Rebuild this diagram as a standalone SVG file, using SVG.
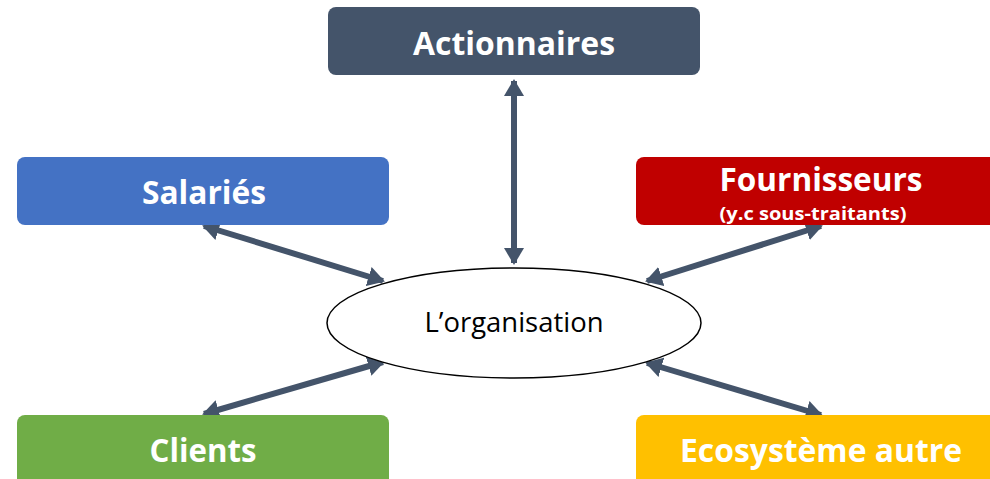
<svg xmlns="http://www.w3.org/2000/svg" width="990" height="479" viewBox="0 0 990 479">
<style>
.box{stroke:none}
.t{font-family:"Open Sans","Liberation Sans",sans-serif;font-weight:bold;fill:#fff;text-anchor:middle}
.c{stroke:#44546A;stroke-width:6;fill:none;marker-start:url(#ah);marker-end:url(#ah)}
</style>
<defs>
<marker id="ah" viewBox="0 0 17 20" refX="15" refY="10" markerWidth="17" markerHeight="20" markerUnits="userSpaceOnUse" orient="auto-start-reverse">
<path d="M0,0 L17,10 L0,20 Z" fill="#44546A"/>
</marker>
</defs>
<rect width="990" height="479" fill="#fff"/>
<g id="connectors">
<line class="c" x1="514" y1="81" x2="514" y2="263"/>
<line class="c" x1="204" y1="226" x2="383" y2="281"/>
<line class="c" x1="821" y1="226" x2="647" y2="281"/>
<line class="c" x1="204" y1="414" x2="383" y2="362"/>
<line class="c" x1="821" y1="415" x2="647" y2="363"/>
</g>
<g id="actionnaires">
<rect class="box" x="328" y="7" width="372" height="68" rx="8" fill="#44546A"/>
<text class="t" x="514" y="55" font-size="32" textLength="202" lengthAdjust="spacingAndGlyphs">Actionnaires</text>
</g>
<g id="salaries">
<rect class="box" x="17" y="157" width="372" height="68" rx="8" fill="#4472C4"/>
<text class="t" x="204" y="204" font-size="32" textLength="124" lengthAdjust="spacingAndGlyphs">Salariés</text>
</g>
<g id="fournisseurs">
<rect class="box" x="636" y="157" width="372" height="68" rx="8" fill="#C00000"/>
<text class="t" x="821" y="191" font-size="32" textLength="203" lengthAdjust="spacingAndGlyphs">Fournisseurs</text>
<text class="t" x="813" y="220" font-size="17" textLength="187" lengthAdjust="spacingAndGlyphs">(y.c sous-traitants)</text>
</g>
<g id="clients">
<rect class="box" x="17" y="415" width="372" height="72" rx="8" fill="#70AD47"/>
<text class="t" x="203" y="462" font-size="32" textLength="107" lengthAdjust="spacingAndGlyphs">Clients</text>
</g>
<g id="ecosysteme">
<rect class="box" x="636" y="415" width="372" height="72" rx="8" fill="#FFC000"/>
<text class="t" x="821" y="462" font-size="32" textLength="282" lengthAdjust="spacingAndGlyphs">Ecosystème autre</text>
</g>
<g id="organisation">
<ellipse cx="514" cy="323" rx="187" ry="55" fill="#fff" stroke="#000" stroke-width="1.5"/>
<text x="514" y="332" font-family="Open Sans,Liberation Sans,sans-serif" font-size="27" fill="#000" text-anchor="middle" textLength="179" lengthAdjust="spacingAndGlyphs">L’organisation</text>
</g>
</svg>
